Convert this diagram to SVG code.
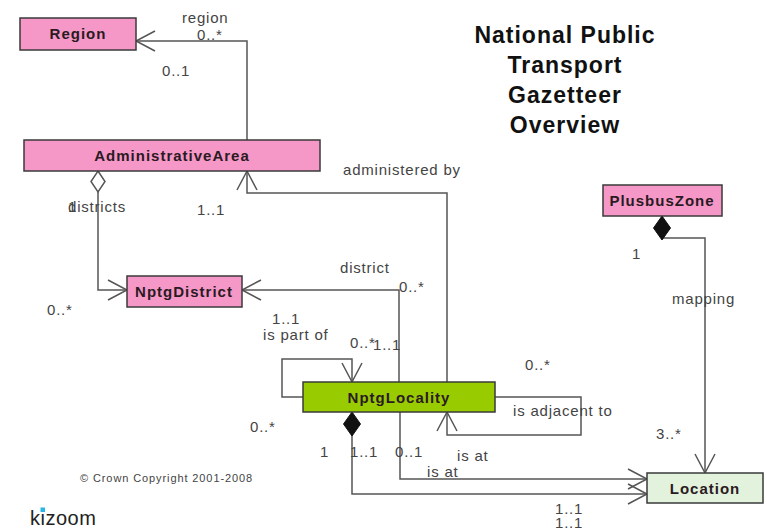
<svg xmlns="http://www.w3.org/2000/svg" width="767" height="530" viewBox="0 0 767 530">
<style>
.box{stroke:#3a3a3a;stroke-width:1.5}
.pink{fill:#f598c8}
.green{fill:#99cc00}
.loc{fill:#e2f2dc}
.nl{font-family:"Liberation Sans",Arial,sans-serif;font-weight:bold;font-size:15px;letter-spacing:1px;fill:#2a1a22;text-anchor:middle}
.lb{font-family:"Liberation Sans",Arial,sans-serif;font-size:15px;letter-spacing:0.8px;fill:#444}
.title{font-family:"Liberation Sans",Arial,sans-serif;font-weight:bold;font-size:23px;letter-spacing:1px;fill:#111;text-anchor:middle}
.cn path{fill:none;stroke:#555;stroke-width:1.5}
</style>
<defs>
<marker id="arr" markerUnits="userSpaceOnUse" markerWidth="24" markerHeight="24" viewBox="-22 -12 24 24" refX="0" refY="0" orient="auto" overflow="visible">
<path d="M-19,-10 L0,0 L-19,10" fill="none" stroke="#555" stroke-width="1.5"/>
</marker>
<marker id="hdia" markerUnits="userSpaceOnUse" markerWidth="26" markerHeight="16" viewBox="0 -8 26 16" refX="0" refY="0" orient="auto" overflow="visible">
<path d="M0,0 L10.5,-7 L21,0 L10.5,7 Z" fill="#fff" stroke="#555" stroke-width="1.5"/>
</marker>
<marker id="fdia" markerUnits="userSpaceOnUse" markerWidth="26" markerHeight="18" viewBox="0 -9 26 18" refX="0" refY="0" orient="auto" overflow="visible">
<path d="M0,0 L12,-8.5 L24,0 L12,8.5 Z" fill="#111" stroke="#111" stroke-width="1"/>
</marker>
</defs>
<rect width="767" height="530" fill="#fff"/>

<g id="title">
<text class="title" x="565" y="43">National Public</text>
<text class="title" x="565" y="73">Transport</text>
<text class="title" x="565" y="103">Gazetteer</text>
<text class="title" x="565" y="133">Overview</text>
</g>

<g id="connectors" class="cn">
<path d="M247,140 V41 H136" marker-end="url(#arr)"/>
<path d="M98,171 V290 H127" marker-start="url(#hdia)" marker-end="url(#arr)"/>
<path d="M447,382 V193 H247 V171" marker-end="url(#arr)"/>
<path d="M399,382 V290 H242" marker-end="url(#arr)"/>
<path d="M303,397 H282 V359 H352 V382" marker-end="url(#arr)"/>
<path d="M495,397 H581 V435 H447 V412" marker-end="url(#arr)"/>
<path d="M400,412 V479 H647" marker-end="url(#arr)"/>
<path d="M352,412 V494 H647" marker-start="url(#fdia)" marker-end="url(#arr)"/>
<path d="M662,216 V238 H705 V473" marker-start="url(#fdia)" marker-end="url(#arr)"/>
</g>

<g id="Region">
<rect class="box pink" x="20" y="18" width="116" height="32"/>
<text class="nl" x="78" y="39">Region</text>
</g>
<g id="AdministrativeArea">
<rect class="box pink" x="24" y="140" width="296" height="31"/>
<text class="nl" x="172" y="161">AdministrativeArea</text>
</g>
<g id="NptgDistrict">
<rect class="box pink" x="127" y="276" width="115" height="31"/>
<text class="nl" x="184" y="297">NptgDistrict</text>
</g>
<g id="NptgLocality">
<rect class="box green" x="303" y="382" width="192" height="30"/>
<text class="nl" x="399" y="403">NptgLocality</text>
</g>
<g id="PlusbusZone">
<rect class="box pink" x="603" y="185" width="119" height="31"/>
<text class="nl" x="662" y="206">PlusbusZone</text>
</g>
<g id="Location">
<rect class="box loc" x="647" y="473" width="116" height="30"/>
<text class="nl" x="705" y="494">Location</text>
</g>

<g id="labels">
<text class="lb" x="182" y="23">region</text>
<text class="lb" x="197" y="40">0..*</text>
<text class="lb" x="162" y="76">0..1</text>
<text class="lb" x="68" y="212">1</text>
<text class="lb" x="68" y="212">districts</text>
<text class="lb" x="197" y="215">1..1</text>
<text class="lb" x="343" y="175">administered by</text>
<text class="lb" x="47" y="315">0..*</text>
<text class="lb" x="340" y="273">district</text>
<text class="lb" x="399" y="292">0..*</text>
<text class="lb" x="272" y="324">1..1</text>
<text class="lb" x="263" y="340">is part of</text>
<text class="lb" x="350" y="348">0..*</text>
<text class="lb" x="373" y="350">1..1</text>
<text class="lb" x="525" y="370">0..*</text>
<text class="lb" x="250" y="432">0..*</text>
<text class="lb" x="513" y="416">is adjacent to</text>
<text class="lb" x="320" y="457">1</text>
<text class="lb" x="350" y="457">1..1</text>
<text class="lb" x="395" y="457">0..1</text>
<text class="lb" x="457" y="461">is at</text>
<text class="lb" x="427" y="477">is at</text>
<text class="lb" x="555" y="514">1..1</text>
<text class="lb" x="555" y="528">1..1</text>
<text class="lb" x="632" y="259">1</text>
<text class="lb" x="672" y="304">mapping</text>
<text class="lb" x="656" y="439">3..*</text>
</g>

<g id="footer">
<text x="80" y="482" font-family="'Liberation Sans',Arial,sans-serif" font-size="11" letter-spacing="0.9" fill="#444">© Crown Copyright 2001-2008</text>
<text x="30" y="525" font-family="'Liberation Sans',Arial,sans-serif" font-size="20" letter-spacing="0.5" fill="#222">kizoom</text>
<rect x="40.5" y="507.5" width="4.5" height="4.5" fill="#29b6e6"/>
</g>
</svg>
